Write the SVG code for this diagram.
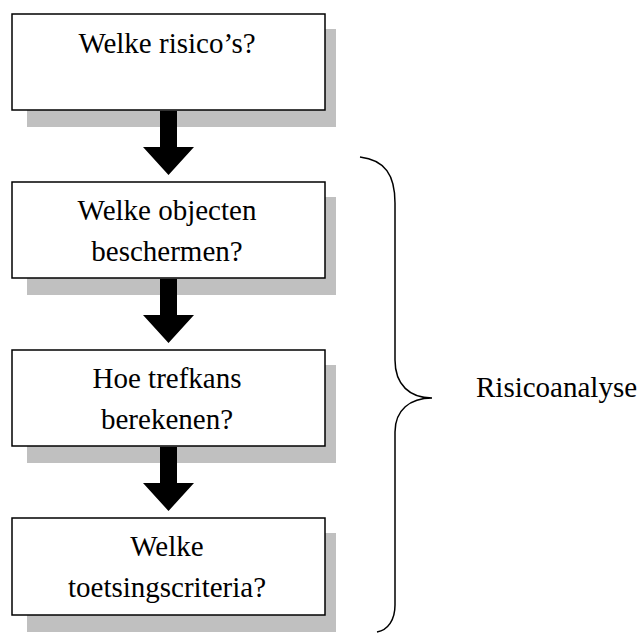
<svg xmlns="http://www.w3.org/2000/svg" width="641" height="633" viewBox="0 0 641 633">
<style>
.shadow{fill:#c0c0c0}
.box{fill:#fff;stroke:#000;stroke-width:1.5}
.t{font-family:"Liberation Serif","Times New Roman",serif;font-size:29px;fill:#000;text-anchor:middle}
.arrow{fill:#000}
</style>
<rect width="641" height="633" fill="#fff"/>
<g id="n1">
<rect class="shadow" x="27" y="29" width="309" height="98"/>
<rect class="box" x="12" y="14" width="313" height="96"/>
<text class="t" x="167" y="53">Welke risico’s?</text>
</g>
<g id="n2">
<rect class="shadow" x="27" y="197" width="309" height="98"/>
<rect class="box" x="12" y="182" width="313" height="96"/>
<text class="t" x="167" y="220">Welke objecten</text>
<text class="t" x="167" y="261">beschermen?</text>
</g>
<g id="n3">
<rect class="shadow" x="27" y="365" width="309" height="98"/>
<rect class="box" x="12" y="350" width="313" height="96"/>
<text class="t" x="167" y="388">Hoe trefkans</text>
<text class="t" x="167" y="429">berekenen?</text>
</g>
<g id="n4">
<rect class="shadow" x="27" y="533" width="309" height="99"/>
<rect class="box" x="12" y="518" width="313" height="97"/>
<text class="t" x="167" y="556">Welke</text>
<text class="t" x="167" y="597">toetsingscriteria?</text>
</g>
<g id="connectors">
<polygon class="arrow" points="160,111 177,111 177,147 194,147 168.5,175 143,147 160,147"/>
<polygon class="arrow" points="160,279 177,279 177,315 194,315 168.5,343 143,315 160,315"/>
<polygon class="arrow" points="160,447 177,447 177,483 194,483 168.5,511 143,483 160,483"/>
</g>
<g id="brace">
<path d="M360,157 C385,160 395,175 395,203 L395,360 C395,385 410,398 432,398 C410,398 395,410 395,432 L395,605 C395,620 388,630 377,632" fill="none" stroke="#000" stroke-width="1.5"/>
<text class="t" x="476" y="397" style="text-anchor:start">Risicoanalyse</text>
</g>
</svg>
